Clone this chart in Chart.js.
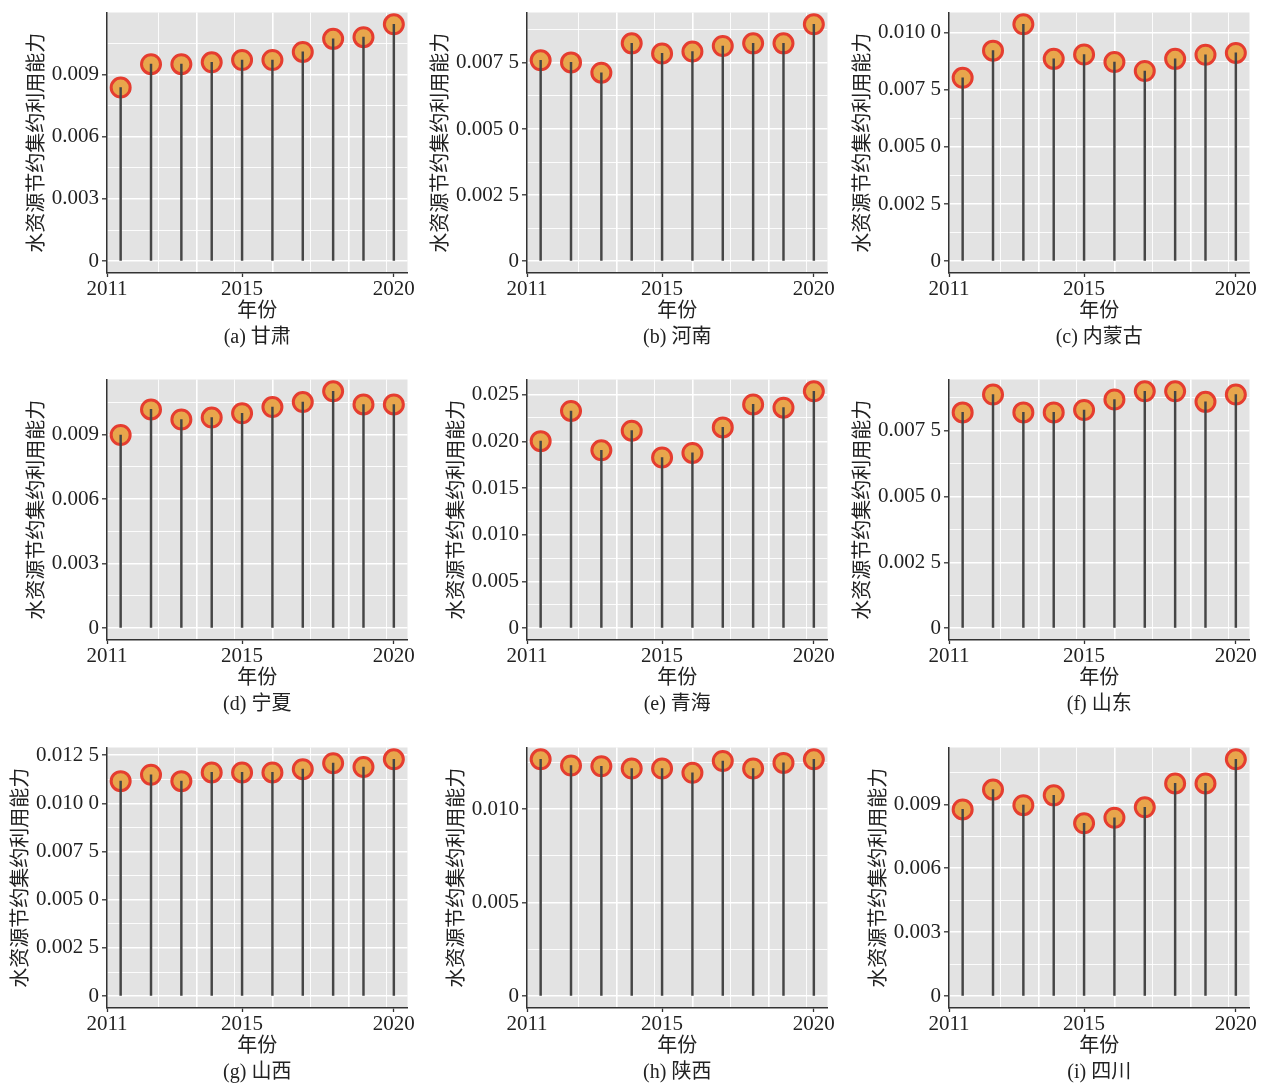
<!DOCTYPE html>
<html lang="zh">
<head>
<meta charset="utf-8">
<title>水资源节约集约利用能力</title>
<script src="https://cdn.jsdelivr.net/npm/chart.js@4.4.1/dist/chart.umd.min.js"></script>
<style>
  html, body { margin: 0; padding: 0; background: #fff; }
  #grid { position: relative; width: 1270px; height: 1085px; }
  .panel { position: absolute; width: 420px; height: 367px; }
</style>
</head>
<body>
<div id="grid"></div>
<script>
// --- Data ---
const years = [2011, 2012, 2013, 2014, 2015, 2016, 2017, 2018, 2019, 2020];
const xTickLabels = ['2011', '2015', '2020'];

const gansu     = [0.00837, 0.00950, 0.00950, 0.00959, 0.00970, 0.00970, 0.01009, 0.01072, 0.01080, 0.01142];
const henan     = [0.00760, 0.00752, 0.00713, 0.00824, 0.00786, 0.00793, 0.00814, 0.00824, 0.00824, 0.00896];
const neimenggu = [0.00802, 0.00921, 0.01036, 0.00885, 0.00904, 0.00871, 0.00832, 0.00885, 0.00903, 0.00911];
const ningxia   = [0.00898, 0.01017, 0.00970, 0.00979, 0.00999, 0.01028, 0.01051, 0.01101, 0.01040, 0.01040];
const qinghai   = [0.02002, 0.02325, 0.01904, 0.02114, 0.01827, 0.01876, 0.02149, 0.02395, 0.02360, 0.02535];
const shandong  = [0.00820, 0.00888, 0.00820, 0.00820, 0.00829, 0.00869, 0.00900, 0.00900, 0.00860, 0.00888];
const shanxi    = [0.01115, 0.01148, 0.01115, 0.01160, 0.01160, 0.01160, 0.01177, 0.01208, 0.01188, 0.01228];
const shaanxi   = [0.01267, 0.01234, 0.01230, 0.01218, 0.01218, 0.01195, 0.01258, 0.01218, 0.01248, 0.01267];
const sichuan   = [0.00876, 0.00969, 0.00896, 0.00942, 0.00811, 0.00837, 0.00886, 0.00998, 0.00998, 0.01111];

// y tick labels (major ticks only)
const yLabels3mil  = ['0', '0.003', '0.006', '0.009'];
const yLabels25a   = ['0', '0.002 5', '0.005 0', '0.007 5'];
const yLabels25b   = ['0', '0.002 5', '0.005 0', '0.007 5', '0.010 0'];
const yLabels25c   = ['0', '0.002 5', '0.005 0', '0.007 5', '0.010 0', '0.012 5'];
const yLabels5a    = ['0', '0.005', '0.010', '0.015', '0.020', '0.025'];
const yLabels5b    = ['0', '0.005', '0.010'];

const yTitle = '水资源节约集约利用能力';
const xTitle = '年份';

// --- Panels (built from the arrays above) ---
const panels = [
  { caption: '(a) 甘肃',   values: gansu,     step: 0.003,  labels: yLabels3mil },
  { caption: '(b) 河南',   values: henan,     step: 0.0025, labels: yLabels25a },
  { caption: '(c) 内蒙古', values: neimenggu, step: 0.0025, labels: yLabels25b },
  { caption: '(d) 宁夏',   values: ningxia,   step: 0.003,  labels: yLabels3mil },
  { caption: '(e) 青海',   values: qinghai,   step: 0.005,  labels: yLabels5a },
  { caption: '(f) 山东',   values: shandong,  step: 0.0025, labels: yLabels25a },
  { caption: '(g) 山西',   values: shanxi,    step: 0.0025, labels: yLabels25c },
  { caption: '(h) 陕西',   values: shaanxi,   step: 0.005,  labels: yLabels5b },
  { caption: '(i) 四川',   values: sichuan,   step: 0.003,  labels: yLabels3mil },
];

// --- Style ---
const SERIF = '"Liberation Serif", "Times New Roman", "Noto Sans CJK SC", serif';
const CJK = '"Liberation Serif", "Noto Sans CJK SC", sans-serif';
const PLOT_LEFT = 107;
const PANEL_BG = '#e3e3e3';
const INK = '#222';

const panelBg = {
  id: 'panelBg',
  beforeDraw(chart) {
    const { ctx, chartArea: a } = chart;
    ctx.save();
    ctx.fillStyle = PANEL_BG;
    ctx.fillRect(a.left, a.top, a.right - a.left, a.bottom - a.top);
    ctx.restore();
  }
};

function measureWidest(labels) {
  const c = document.createElement('canvas').getContext('2d');
  c.font = '21px ' + SERIF;
  return Math.max(...labels.map(l => c.measureText(l).width));
}

function buildChart(panel, idx) {
  const col = idx % 3, row = Math.floor(idx / 3);
  const wrap = document.createElement('div');
  wrap.className = 'panel';
  wrap.style.left = (col * 420 + (col === 2 ? 2 : 0)) + 'px';
  wrap.style.top = (row * 367 + (row === 2 ? 1 : 0)) + 'px';
  const canvas = document.createElement('canvas');
  canvas.width = 420;
  canvas.height = 367;
  wrap.appendChild(canvas);
  document.getElementById('grid').appendChild(wrap);

  const vmax = Math.max(...panel.values);
  const span = years[years.length - 1] - years[0];
  const xMin = years[0] - 0.05 * span;
  const xMax = years[years.length - 1] + 0.05 * span;
  const minor = panel.step / 2;
  const titleCenter = PLOT_LEFT - 8 - measureWidest(panel.labels) - 14;
  const points = years.map((y, i) => ({ x: y, y: panel.values[i] }));

  return new Chart(canvas, {
    type: 'bar',
    data: {
      datasets: [
        { type: 'bar', data: points, backgroundColor: '#454545', barThickness: 1.8, grouped: false, order: 0 },
        { type: 'scatter', data: points, pointRadius: 9.5, pointBorderWidth: 3,
          pointBackgroundColor: '#e8a64c', pointBorderColor: '#e53d30', order: 1 },
      ]
    },
    options: {
      responsive: false,
      animation: false,
      events: [],
      layout: { padding: { left: 0, right: 11, top: 10, bottom: 0 } },
      plugins: {
        legend: { display: false },
        tooltip: { enabled: false },
        title: {
          display: true, text: panel.caption, position: 'bottom', fullSize: false,
          color: INK, font: { family: CJK, size: 20, weight: 'normal', lineHeight: 1.2 },
          padding: { top: 0, bottom: 17 }
        }
      },
      scales: {
        x: {
          type: 'linear', position: 'bottom', min: xMin, max: xMax, offset: false,
          afterBuildTicks: s => { s.ticks = xTickLabels.map((l, i) => ({ value: i === 0 ? s.min : Number(l) })); },
          afterFit: s => { s.height = 53; },
          ticks: { autoSkip: false, maxRotation: 0, padding: 0, color: INK,
                   font: { family: SERIF, size: 21, lineHeight: 1.2 },
                   callback: (v, i) => xTickLabels[i] },
          grid: { offset: false, drawOnChartArea: false, drawTicks: true, tickLength: 4, tickColor: '#333', tickWidth: 1.3 },
          border: { display: true, color: '#333', width: 1.5 },
          title: { display: true, text: xTitle, color: INK,
                   font: { family: CJK, size: 20, lineHeight: 1.2 }, padding: { top: 0, bottom: 2 } }
        },
        xg: {
          type: 'linear', position: 'bottom', min: xMin, max: xMax, offset: false,
          afterBuildTicks: s => {
            const t = [];
            for (let k = 1; k <= 8; k++) t.push({ value: years[0] + k * 1.25 });
            s.ticks = t;
          },
          afterFit: s => { s.height = 0; },
          ticks: { display: false },
          grid: { offset: false, drawTicks: false, color: '#ffffff', lineWidth: c => (c.index % 2 === 1 ? 1.6 : 0.9) },
          border: { display: false }
        },
        y: {
          type: 'linear', min: -0.05 * vmax, max: 1.05 * vmax,
          afterBuildTicks: s => {
            const t = [];
            for (let k = 0; k * minor <= s.max + 1e-12; k++) t.push({ value: Math.round(k * minor * 1e7) / 1e7 });
            s.ticks = t;
          },
          afterFit: s => { s.width = PLOT_LEFT; s.paddingTop = 0; s.paddingBottom = 0; },
          ticks: { autoSkip: false, padding: 3, color: INK,
                   font: { family: SERIF, size: 21, lineHeight: 1.2 },
                   callback: (v, i) => (i % 2 === 0 ? (panel.labels[i / 2] || '') : '') },
          grid: { color: '#ffffff', lineWidth: c => (c.index % 2 === 0 ? 1.6 : 0.9),
                  tickLength: 5, tickWidth: 1.3,
                  tickColor: c => (c.index % 2 === 0 ? '#333' : 'rgba(0,0,0,0)') },
          border: { display: true, color: '#333', width: 1.5 },
          title: { display: true, text: yTitle, color: INK,
                   font: { family: CJK, size: 20, lineHeight: 1.2 },
                   padding: { top: titleCenter - 12, bottom: 0 } }
        }
      }
    },
    plugins: [panelBg]
  });
}

panels.forEach(buildChart);
</script>
</body>
</html>
